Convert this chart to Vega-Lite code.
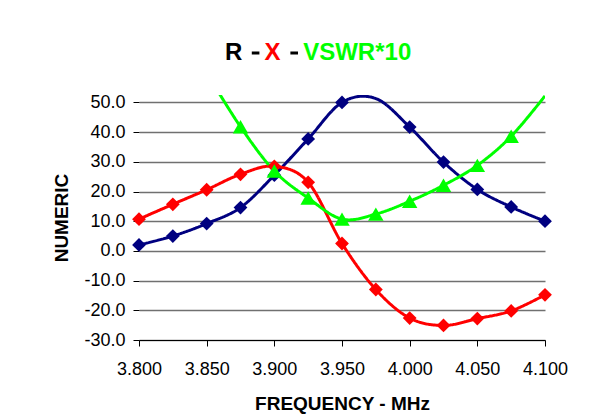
{
  "$schema": "https://vega.github.io/schema/vega-lite/v6.json",
  "width": 406,
  "height": 245,
  "autosize": {"type": "none"},
  "padding": {"left": 139, "top": 95, "right": 46, "bottom": 74},
  "background": "white",
  "config": {"view": {"stroke": null}, "font": "Liberation Sans"},
  "data": {
    "values": [
      {"f": 3.800, "series": "R", "value": 2.0},
      {"f": 3.825, "series": "R", "value": 5.0},
      {"f": 3.850, "series": "R", "value": 9.2},
      {"f": 3.875, "series": "R", "value": 14.6},
      {"f": 3.900, "series": "R", "value": 25.5},
      {"f": 3.925, "series": "R", "value": 37.7},
      {"f": 3.950, "series": "R", "value": 50.0},
      {"f": 3.975, "series": "R", "value": 51.3},
      {"f": 4.000, "series": "R", "value": 41.7},
      {"f": 4.025, "series": "R", "value": 29.9},
      {"f": 4.050, "series": "R", "value": 20.7},
      {"f": 4.075, "series": "R", "value": 14.8},
      {"f": 4.100, "series": "R", "value": 10.0},
      {"f": 3.800, "series": "X", "value": 10.7},
      {"f": 3.825, "series": "X", "value": 15.7},
      {"f": 3.850, "series": "X", "value": 20.6},
      {"f": 3.875, "series": "X", "value": 25.8},
      {"f": 3.900, "series": "X", "value": 28.5},
      {"f": 3.925, "series": "X", "value": 23.1},
      {"f": 3.950, "series": "X", "value": 2.5},
      {"f": 3.975, "series": "X", "value": -13.0},
      {"f": 4.000, "series": "X", "value": -22.6},
      {"f": 4.025, "series": "X", "value": -25.1},
      {"f": 4.050, "series": "X", "value": -22.8},
      {"f": 4.075, "series": "X", "value": -20.2},
      {"f": 4.100, "series": "X", "value": -14.8},
      {"f": 3.850, "series": "VSWR*10", "value": 60.0},
      {"f": 3.875, "series": "VSWR*10", "value": 41.8},
      {"f": 3.900, "series": "VSWR*10", "value": 26.9},
      {"f": 3.925, "series": "VSWR*10", "value": 17.8},
      {"f": 3.950, "series": "VSWR*10", "value": 10.7},
      {"f": 3.975, "series": "VSWR*10", "value": 12.4},
      {"f": 4.000, "series": "VSWR*10", "value": 16.7},
      {"f": 4.025, "series": "VSWR*10", "value": 22.1},
      {"f": 4.050, "series": "VSWR*10", "value": 28.8},
      {"f": 4.075, "series": "VSWR*10", "value": 38.6},
      {"f": 4.100, "series": "VSWR*10", "value": 52.2}
    ]
  },
  "encoding": {
    "x": {
      "field": "f",
      "type": "quantitative",
      "scale": {"domain": [3.8, 4.1], "nice": false, "zero": false},
      "axis": {
        "values": [3.8, 3.85, 3.9, 3.95, 4.0, 4.05, 4.1],
        "format": ".3f",
        "title": "FREQUENCY - MHz",
        "titleFont": "Liberation Sans",
        "titleFontSize": 19,
        "titleFontWeight": "bold",
        "titleColor": "black",
        "titlePadding": 16,
        "labelFont": "Liberation Sans",
        "labelFontSize": 18,
        "labelColor": "black",
        "labelPadding": 14,
        "labelFlush": false,
        "labelOverlap": false,
        "domainColor": "black",
        "tickColor": "black",
        "tickSize": 6,
        "grid": false
      }
    },
    "y": {
      "field": "value",
      "type": "quantitative",
      "scale": {"domain": [-30, 52.5], "nice": false, "zero": false},
      "axis": {
        "values": [-30, -20, -10, 0, 10, 20, 30, 40, 50],
        "labelExpr": "replace(format(datum.value, '.1f'), '\u2212', '-')",
        "title": "NUMERIC",
        "titleFont": "Liberation Sans",
        "titleFontSize": 19,
        "titleFontWeight": "bold",
        "titleColor": "black",
        "titlePadding": 12,
        "labelFont": "Liberation Sans",
        "labelFontSize": 18,
        "labelColor": "black",
        "labelPadding": 8,
        "domain": false,
        "tickColor": "black",
        "tickSize": 6,
        "grid": true,
        "gridColor": "#707070",
        "gridWidth": 1.5
      }
    }
  },
  "layer": [
    {
      "data": {"values": [{}]},
      "mark": {"type": "rule", "color": "black", "strokeWidth": 1},
      "encoding": {"x": {"datum": 3.8}, "y": {"datum": -30}, "y2": {"datum": 50}}
    },
    {
      "data": {"values": [{}]},
      "mark": {"type": "rule", "color": "#707070", "strokeWidth": 1.5},
      "encoding": {"x": {"datum": 4.1}, "y": {"datum": -30}, "y2": {"datum": 50}}
    },
    {
      "mark": {"type": "line", "interpolate": "cardinal", "strokeWidth": 3, "clip": true},
      "encoding": {
        "color": {
          "field": "series",
          "type": "nominal",
          "scale": {"domain": ["X", "R", "VSWR*10"], "range": ["#FF0000", "#000080", "#00FF00"]},
          "legend": null
        },
        "strokeDash": {
          "field": "series",
          "type": "nominal",
          "scale": {"domain": ["R", "X", "VSWR*10"], "range": [[1, 0], [1, 0], [1, 0]]},
          "legend": {
            "orient": "none",
            "legendX": 65,
            "legendY": -54,
            "direction": "horizontal",
            "columns": 3,
            "title": null,
            "labelFont": "Liberation Sans",
            "labelFontSize": 24,
            "labelFontWeight": "bold",
            "labelOffset": -3,
            "labelLimit": 300,
            "columnPadding": 0.6,
            "symbolType": "stroke",
            "symbolSize": 58,
            "symbolStrokeWidth": 3,
            "symbolStrokeColor": "black",
            "encode": {
              "symbols": {
                "update": {
                  "stroke": {"value": "black"},
                  "strokeWidth": {"value": 3},
                  "opacity": {"signal": "datum.value === 'R' ? 0 : 1"}
                }
              },
              "labels": {
                "update": {
                  "fill": {"signal": "datum.value === 'X' ? '#FF0000' : datum.value === 'VSWR*10' ? '#00FF00' : '#000000'"}
                }
              }
            }
          }
        }
      }
    },
    {
      "transform": [{"filter": "datum.series !== 'VSWR*10' && datum.value <= 50"}],
      "mark": {"type": "point", "shape": "diamond", "filled": true, "size": 190, "opacity": 1},
      "encoding": {
        "color": {"field": "series", "type": "nominal", "legend": null}
      }
    },
    {
      "transform": [{"filter": "datum.series === 'VSWR*10' && datum.value <= 50"}],
      "mark": {"type": "point", "shape": "triangle-up", "filled": true, "size": 240, "opacity": 1},
      "encoding": {
        "color": {"field": "series", "type": "nominal", "legend": null}
      }
    }
  ]
}
